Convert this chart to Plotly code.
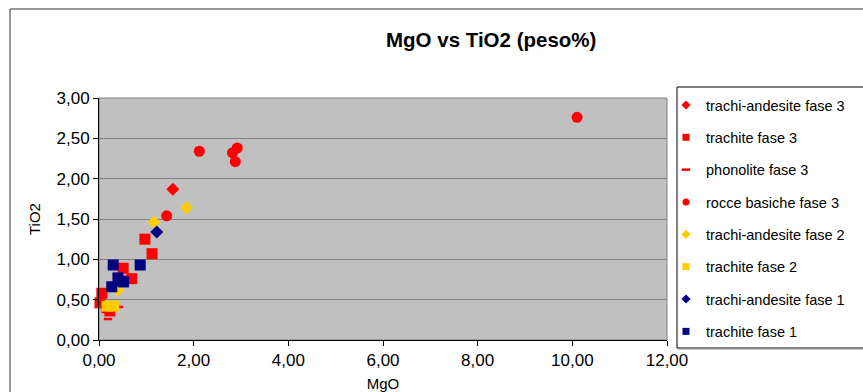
import plotly.graph_objects as go

# ---- data (MgO, TiO2 in wt%) ----
ta3_mgo = [1.56]
ta3_tio2 = [1.87]

tr3_mgo = [0.97, 1.12, 0.51, 0.69, 0.06, 0.02, 0.17, 0.23]
tr3_tio2 = [1.25, 1.07, 0.89, 0.76, 0.58, 0.46, 0.40, 0.36]

ph3_mgo = [0.19, 0.42]
ph3_tio2 = [0.26, 0.41]

rb3_mgo = [10.10, 2.12, 2.92, 2.82, 2.88, 1.43]
rb3_tio2 = [2.76, 2.34, 2.38, 2.32, 2.21, 1.54]

ta2_mgo = [1.16, 1.85, 0.40]
ta2_tio2 = [1.46, 1.64, 0.62]

tr2_mgo = [0.17, 0.31]
tr2_tio2 = [0.42, 0.42]

ta1_mgo = [1.22]
ta1_tio2 = [1.34]

tr1_mgo = [0.30, 0.87, 0.40, 0.52, 0.27, 0.45]
tr1_tio2 = [0.93, 0.93, 0.77, 0.72, 0.66, 0.73]

x_ticks = [0, 2, 4, 6, 8, 10, 12]
y_ticks = [0, 0.5, 1.0, 1.5, 2.0, 2.5, 3.0]

RED = "#FF0000"
YEL = "#FFCC00"
NAVY = "#000080"

series = [
    ("trachi-andesite fase 3", ta3_mgo, ta3_tio2, "diamond", RED, 10, 7),
    ("trachite fase 3", tr3_mgo, tr3_tio2, "square", RED, 11, 7),
    ("phonolite fase 3", ph3_mgo, ph3_tio2, "line-ew", RED, 6, 6),
    ("rocce basiche fase 3", rb3_mgo, rb3_tio2, "circle", RED, 11, 7),
    ("trachi-andesite fase 2", ta2_mgo, ta2_tio2, "diamond", YEL, 10, 7),
    ("trachite fase 2", tr2_mgo, tr2_tio2, "square", YEL, 11, 7),
    ("trachi-andesite fase 1", ta1_mgo, ta1_tio2, "diamond", NAVY, 10, 7),
    ("trachite fase 1", tr1_mgo, tr1_tio2, "square", NAVY, 11, 7),
]


def mk(sym, col, sz):
    if sym == "line-ew":
        return dict(symbol=sym, size=sz, color=col, line=dict(color=col, width=2.5))
    return dict(symbol=sym, size=sz, color=col, line=dict(width=0))


fig = go.Figure()
for i, (name, xs, ys, sym, col, sz, lsz) in enumerate(series):
    fig.add_trace(go.Scatter(
        x=xs, y=ys, mode="markers", name=name, marker=mk(sym, col, sz),
        cliponaxis=False, legendgroup=f"g{i}", showlegend=False,
    ))
    # legend entry with the small legend-key marker
    fig.add_trace(go.Scatter(
        x=[None], y=[None], mode="markers", name=name, marker=mk(sym, col, lsz),
        legendgroup=f"g{i}", showlegend=True, hoverinfo="skip",
    ))

W, H = 863, 392
L, R, T, B = 99, 667, 98, 340


def px(xp):
    return (xp - L) / (R - L)


def py(yp):
    return (B - yp) / (B - T)


fig.update_layout(
    width=W, height=H,
    margin=dict(l=L, r=W - R, t=T, b=H - B, autoexpand=False),
    paper_bgcolor="white",
    plot_bgcolor="#C0C0C0",
    separators=",.",
    font=dict(family="Liberation Sans, Arial, sans-serif", color="black"),
    showlegend=True,
    legend=dict(
        x=px(666), y=py(89), xanchor="left", yanchor="top",
        bgcolor="rgba(0,0,0,0)", borderwidth=0,
        font=dict(size=14.5, color="black"),
        tracegroupgap=10.5, itemsizing="trace", traceorder="grouped",
        maxheight=380,
    ),
    xaxis=dict(
        range=[0, 12], tickvals=x_ticks, tickformat=".2f",
        showgrid=False, zeroline=False,
        showline=True, linecolor="black", linewidth=1,
        ticks="outside", ticklen=5, tickcolor="black",
        tickfont=dict(size=17),
        title=dict(text="MgO", font=dict(size=15), standoff=13),
    ),
    yaxis=dict(
        range=[0, 3], tickvals=y_ticks, tickformat=".2f",
        showgrid=True, gridcolor="#808080", gridwidth=1,
        zeroline=False,
        showline=True, linecolor="black", linewidth=1,
        ticks="outside", ticklen=5, tickcolor="black",
        tickfont=dict(size=17),
        title=dict(text="TiO2", font=dict(size=15), standoff=12),
    ),
    shapes=[
        # outer chart border
        dict(type="rect", xref="paper", yref="paper",
             x0=px(10), x1=px(875), y0=py(405), y1=py(9),
             line=dict(color="#333333", width=1), fillcolor="rgba(0,0,0,0)", layer="below"),
        # plot area frame top/right
        dict(type="rect", xref="paper", yref="paper",
             x0=0, x1=1, y0=0, y1=1,
             line=dict(color="#808080", width=1), fillcolor="rgba(0,0,0,0)", layer="below"),
        # legend box shadow
        dict(type="line", xref="paper", yref="paper",
             x0=px(678), x1=px(880), y0=py(349), y1=py(349),
             line=dict(color="#909090", width=1)),
        # legend box
        dict(type="rect", xref="paper", yref="paper",
             x0=px(677), x1=px(880), y0=py(348), y1=py(87),
             line=dict(color="black", width=1), fillcolor="white", layer="below"),
    ],
    annotations=[
        dict(text="<b>MgO vs TiO2 (peso%)</b>", xref="paper", yref="paper",
             x=px(491), y=py(40), xanchor="center", yanchor="middle",
             showarrow=False, font=dict(size=20.5, color="black")),
    ],
)

fig.write_html("out.html")
